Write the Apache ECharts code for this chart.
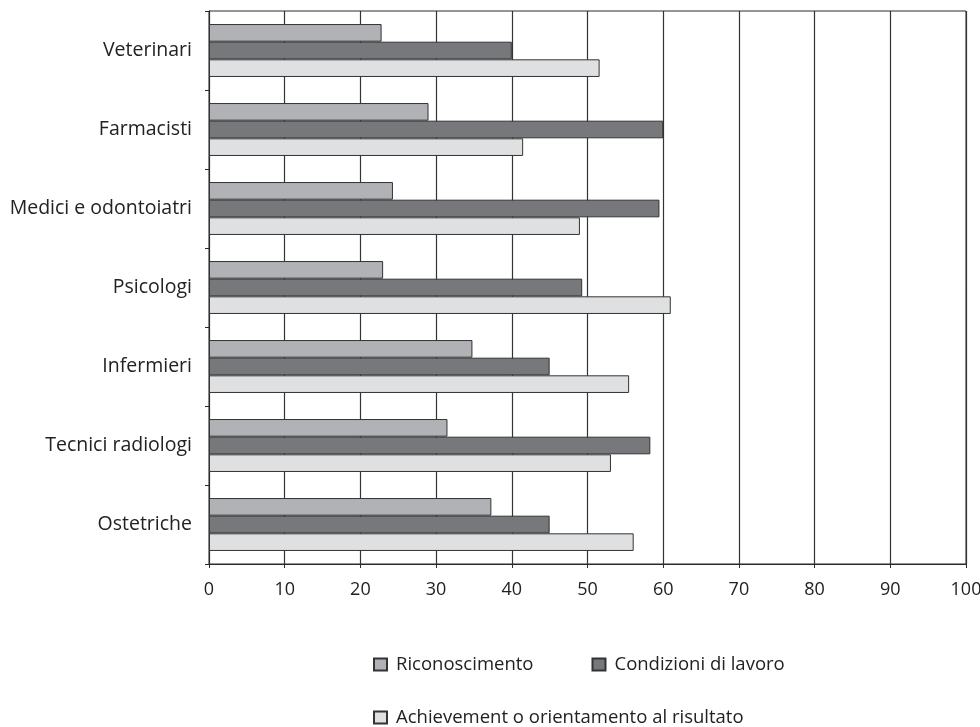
<!DOCTYPE html>
<html>
<head>
<meta charset="utf-8">
<script src="https://cdn.jsdelivr.net/npm/echarts@6/dist/echarts.min.js"></script>
<style>
  html, body { margin: 0; padding: 0; background: #fff; }
  #chart { width: 980px; height: 727px; }
</style>
</head>
<body>
<div id="chart"></div>
<script>
// Professions (top to bottom)
const categories = ['Veterinari', 'Farmacisti', 'Medici e odontoiatri', 'Psicologi', 'Infermieri', 'Tecnici radiologi', 'Ostetriche'];

// Percentages per motivation
const riconoscimento = [22.8, 29.0, 24.3, 23.0, 34.8, 31.5, 37.3];
const condizioniLavoro = [40.0, 60.0, 59.5, 49.3, 45.0, 58.3, 45.0];
const achievement = [51.6, 41.5, 49.0, 61.0, 55.5, 53.1, 56.1];

const seriesNames = ['Riconoscimento', 'Condizioni di lavoro', 'Achievement o orientamento al risultato'];
const seriesColors = ['#b1b2b6', '#77787c', '#dfe0e2'];

const FONT = 'Open Sans';
const chart = echarts.init(document.getElementById('chart'));

const seriesData = [riconoscimento, condizioniLavoro, achievement];

const legendText = { fontFamily: FONT, fontSize: 18.5, color: '#222', padding: [0, 0, 0, 4] };

chart.setOption({
  animation: false,
  textStyle: { fontFamily: FONT },
  grid: {
    left: 209, right: 14, top: 11, bottom: 163,
    outerBoundsMode: 'none',
    show: true, borderColor: '#2a2a2a', borderWidth: 1, backgroundColor: 'transparent'
  },
  legend: [
    {
      data: seriesNames.slice(0, 2),
      left: 368, top: 650,
      itemWidth: 13, itemHeight: 12, itemGap: 58,
      icon: 'rect',
      textStyle: legendText
    },
    {
      data: seriesNames.slice(2),
      left: 368, top: 703,
      itemWidth: 13, itemHeight: 12,
      icon: 'rect',
      textStyle: legendText
    }
  ],
  xAxis: {
    type: 'value', min: 0, max: 100, interval: 10,
    axisLine: { show: true, lineStyle: { color: '#2a2a2a', width: 1 } },
    axisTick: { show: true, length: 4, lineStyle: { color: '#2a2a2a' } },
    axisLabel: { fontSize: 18, color: '#222', margin: 17, fontFamily: FONT },
    splitLine: { show: true, lineStyle: { color: '#333', width: 1.2 } }
  },
  yAxis: {
    type: 'category', data: categories, inverse: true,
    axisLine: { show: true, lineStyle: { color: '#2a2a2a', width: 1 } },
    axisTick: { show: true, length: 4, lineStyle: { color: '#2a2a2a' } },
    axisLabel: { fontSize: 19.5, color: '#222', margin: 17, fontFamily: FONT },
    splitLine: { show: false }
  },
  series: seriesNames.map((name, i) => ({
    name,
    type: 'bar',
    data: seriesData[i],
    barGap: '0%',
    barCategoryGap: '33%',
    itemStyle: { color: seriesColors[i], borderColor: '#333', borderWidth: 1 }
  }))
});
</script>
</body>
</html>
